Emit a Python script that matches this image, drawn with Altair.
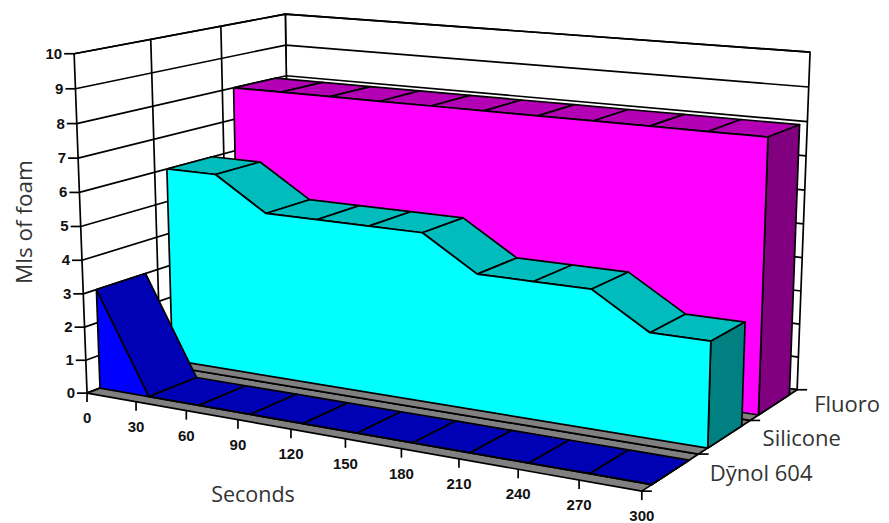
import numpy as np
import pandas as pd
import altair as alt

# ---- values ----
seconds = [0, 30, 60, 90, 120, 150, 180, 210, 240, 270, 300]
series_names = ["Dȳnol 604", "Silicone", "Fluoro"]
dynol = [3, 0, 0, 0, 0, 0, 0, 0, 0, 0, 0]
silicone = [6, 6, 5, 5, 5, 5, 4, 4, 4, 3, 3]
fluoro = [8, 8, 8, 8, 8, 8, 8, 8, 8, 8, 8]
ml_ticks = list(range(0, 11))
face_colors = ["#0000ff", "#00ffff", "#ff00ff"]
top_colors = ["#0000b4", "#00bcbc", "#b400b4"]
side_colors = ["#000080", "#008080", "#800080"]
FLOOR = "#808080"
WALL = "#ffffff"

# ---- 3-D camera: (time fraction, depth fraction, height fraction) -> page pixels ----
cube = [(0,0,0),(0,0,1),(1,0,0),(1,1,0),(1,1,1),(0,1,1)]
page = [(87,393),(74,54),(642,491),(797,390),(810,52),(285.5,14)]
rows_ = []
for (a,b,c),(x,y) in zip(cube,page):
    rows_.append([a,b,c,1,0,0,0,0,-x*a,-x*b,-x*c,-x])
    rows_.append([0,0,0,0,a,b,c,1,-y*a,-y*b,-y*c,-y])
CAM = np.linalg.svd(np.array(rows_,float))[2][-1].reshape(3,4)

def proj(sec, depth, ml):
    h = CAM @ np.array([sec/300, depth, ml/10, 1.0])
    return float(h[0]/h[2]), float(h[1]/h[2])

# ---- build line/polygon rows ----
rows = []
counter = [0]
def add(pts, fill):
    pid = counter[0]; counter[0] += 1
    for k,(x,y) in enumerate(pts):
        rows.append({"id": pid, "k": k, "px": x, "py": y, "fill": fill})
def shape(points3d, fill="transparent", close=True):
    pts = [proj(*p) for p in points3d]
    if close:
        pts = pts + [pts[0]]
    add(pts, fill)
def screen_seg(p0, p1):
    add([p0, p1], "transparent")

# walls
shape([(0,1,0),(300,1,0),(300,1,10),(0,1,10)], WALL)
shape([(0,0,0),(0,1,0),(0,1,10),(0,0,10)], WALL)
for v in ml_ticks:
    shape([(0,0,v),(0,1,v),(300,1,v)], close=False)
for d in (1/3, 2/3):
    shape([(0,d,0),(0,d,10)], close=False)
# floor cells
for i in range(3):
    shape([(0,i/3,0),(300,i/3,0),(300,(i+1)/3,0),(0,(i+1)/3,0)], FLOOR)
# ticks
for v in ml_ticks:
    x,y = proj(0,0,v)
    screen_seg((x-10,y),(x,y))
for s in seconds:
    x,y = proj(s,0,0)
    screen_seg((x,y),(x,y+9))
for i in range(4):
    x,y = proj(300,i/3,0)
    screen_seg((x,y),(x+10,y))

# ribbons, back to front
centers = [1/6, 1/2, 5/6]
HALF = 0.11
all_series = [dynol, silicone, fluoro]
for idx in (2,1,0):
    vals = all_series[idx]
    d0, d1 = centers[idx]-HALF, centers[idx]+HALF
    for j in range(len(seconds)-1):
        s0,s1 = seconds[j],seconds[j+1]
        shape([(s0,d0,vals[j]),(s1,d0,vals[j+1]),(s1,d1,vals[j+1]),(s0,d1,vals[j])], top_colors[idx])
    shape([(300,d0,0),(300,d1,0),(300,d1,vals[-1]),(300,d0,vals[-1])], side_colors[idx])
    front = [(s,d0,v) for s,v in zip(seconds,vals)]
    shape(front+[(300,d0,0),(0,d0,0)], face_colors[idx])

df = pd.DataFrame(rows)

ml_labels = pd.DataFrame([{"px":proj(0,0,v)[0]-12,"py":proj(0,0,v)[1],"t":str(v)} for v in ml_ticks])
sec_labels = pd.DataFrame([{"px":proj(s,0,0)[0],"py":proj(s,0,0)[1]+25,"t":str(s)} for s in seconds])
name_dx = [68, 64, 64]
name_dy = [-17, -15, -15]
ser_labels = pd.DataFrame([
    {"px":proj(300,i/3,0)[0]+name_dx[i],"py":proj(300,i/3,0)[1]+name_dy[i],"t":series_names[i]} for i in range(3)])

W,H = 873,515
xs = alt.Scale(domain=[8,8+W], range=[0,W])
ys = alt.Scale(domain=[8,8+H], range=[0,H])
X = alt.X("px:Q", scale=xs, axis=None)
Y = alt.Y("py:Q", scale=ys, axis=None)

polys = alt.Chart(df).mark_line(strokeWidth=1.7, stroke="#000000", strokeJoin="round").encode(
    x=X, y=Y, detail="id:N", order="k:Q", fill=alt.Fill("fill:N", scale=None))
t1 = alt.Chart(ml_labels).mark_text(font="Liberation Sans", fontWeight="bold", fontSize=15, align="right", baseline="middle", color="#111").encode(x=X,y=Y,text="t:N")
t2 = alt.Chart(sec_labels).mark_text(font="Liberation Sans", fontWeight="bold", fontSize=15, align="center", baseline="middle", color="#111").encode(x=X,y=Y,text="t:N")
t3 = alt.Chart(ser_labels).mark_text(font="Open Sans", fontSize=22, align="left", baseline="middle", color="#333333").encode(x=X,y=Y,text="t:N")
t4 = alt.Chart(pd.DataFrame([{"px":253,"py":496,"t":"Seconds"}])).mark_text(font="Open Sans", fontSize=21.5, align="center", baseline="middle", color="#333333").encode(x=X,y=Y,text="t:N")
t5 = alt.Chart(pd.DataFrame([{"px":24.5,"py":222,"t":"Mls of foam"}])).mark_text(font="Open Sans", fontSize=22.5, align="center", baseline="middle", angle=270, color="#333333").encode(x=X,y=Y,text="t:N")

chart = alt.layer(polys,t1,t2,t3,t4,t5).properties(width=W,height=H,padding=0,autosize=alt.AutoSizeParams(type="none")).configure_view(stroke=None)
chart.save("out.html", embed_options={"renderer":"svg","actions":False})
